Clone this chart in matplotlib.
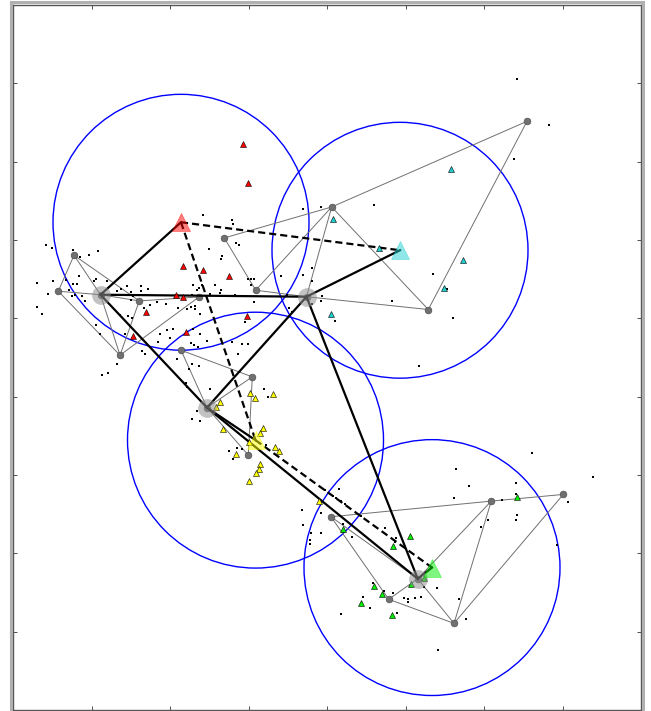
import numpy as np
import matplotlib
matplotlib.use("Agg")
import matplotlib.pyplot as plt
from matplotlib.patches import Circle, Rectangle

# cluster colours and names
names = ["red", "cyan", "yellow", "green"]
colors = ["#ff0000", "#20d0d0", "#ffff00", "#00ee00"]

# cluster centres (big triangles) and circle radius
cent_x = [181.0, 400.0, 255.5, 432.0]
cent_y = [222.0, 250.0, 440.0, 567.5]
radius = 128.0

# hub nodes (big grey discs)
hub_x = [100.5, 306.5, 207.0, 417.7]
hub_y = [294.5, 296.5, 407.5, 578.7]

# hub <-> hub links (thick solid) and centre <-> centre links (thick dashed)
hub_links = [(0, 1), (0, 2), (1, 2), (1, 3), (2, 3)]
cent_links = [(0, 1), (0, 2), (2, 3)]

# grey graph nodes per cluster (index 0 is the hub)
red_nodes = [(100.5, 294.5), (74, 255), (58.3, 291), (139.3, 300.7), (120, 355), (199, 296.7)]
red_edges = [(1, 2), (1, 0), (1, 3), (2, 0), (2, 4), (0, 3), (0, 4), (3, 4), (4, 5), (3, 5)]
cyan_nodes = [(306.5, 296.5), (331.7, 206.7), (527, 121), (428.3, 309.3), (224.3, 237.7), (255.7, 290)]
cyan_edges = [(4, 1), (4, 5), (5, 1), (5, 0), (1, 0), (1, 3), (1, 2), (2, 3), (0, 3)]
yellow_nodes = [(207, 407.5), (181, 350), (252.3, 376.7), (248.3, 455)]
yellow_edges = [(1, 2), (1, 0), (2, 0), (2, 3), (0, 3)]
green_nodes = [(417.7, 578.7), (331, 516.7), (491.3, 501), (563.3, 494.3), (388.7, 599.2), (454, 623.3)]
green_edges = [(1, 2), (1, 0), (1, 4), (4, 0), (4, 5), (0, 5), (0, 2), (2, 5), (2, 3), (3, 5)]

# member triangles
red_tri = [(243, 144), (248.3, 182.7), (182.7, 265.7), (203.3, 270), (229, 276), (175.7, 294.3),
           (182.7, 296.3), (246.7, 315.7), (185.7, 331.7), (146.3, 311.7), (132.7, 335.7)]
cyan_tri = [(450.7, 169), (332.5, 218.5), (379, 248), (463, 260), (444.3, 287.7), (331, 313.3)]
yellow_tri = [(220, 402.3), (215.7, 407.3), (250, 392.7), (254.7, 397.7), (272.5, 394.3), (223.3, 429.3),
              (262.8, 428.3), (260, 432.7), (249.3, 441.7), (275, 446.7), (278.8, 450.7), (236, 454.3),
              (260, 464), (259.3, 469.3), (256, 473), (249.3, 481), (318.7, 500.8)]
green_tri = [(342.8, 529.2), (409.6, 535.7), (392.8, 545.7), (424.3, 577.7), (411.3, 584.2),
             (374.3, 585.5), (382.2, 594.3), (361, 603.3), (392, 615), (517.3, 496.7)]

# unassigned points (black dots)
dots = [
    (45.7, 244.3), (51.7, 247.7), (72.7, 250), (98.3, 250.7), (89.3, 254.3), (80, 256.7),
    (66.3, 280), (72.7, 284), (76.7, 284), (79, 276), (95.7, 278.3), (94, 281), (106.7, 281),
    (37.3, 282.3), (53.3, 281), (69, 289.3), (48.3, 293.3), (75, 294.3), (71.7, 296), (82.3, 296),
    (85, 300.7), (116.7, 290.7), (126.7, 286), (121, 288.3), (141, 285.7), (148.3, 289), (141, 290.7),
    (131, 291.7), (133.3, 296), (131, 300), (156.7, 301.7), (166, 304), (150, 305), (144, 307.3),
    (36.7, 306.7), (41.7, 313.3), (120, 315), (128.3, 315.7), (131.7, 317.7), (95.7, 325), (100, 333.3),
    (125, 334.3), (160, 334.3), (166.7, 330), (172.7, 329), (170, 338.3), (158.3, 342.3), (141.7, 350.7),
    (145, 354), (116.7, 364.3), (101.7, 375), (108.3, 373.3),
    (202.7, 214.3), (231.7, 220), (232.7, 223.3), (235.7, 242.7), (239.3, 244.3), (209.3, 249),
    (222.3, 256), (221, 258.3), (302.7, 208.3), (281, 275.7), (303.3, 275), (311.7, 267.7),
    (248.3, 278.3), (251, 278.3), (253.7, 278.3), (250.7, 285), (192.7, 285), (201.7, 284.3),
    (199.3, 287.7), (197.3, 290), (215, 285), (221, 289.3), (220, 292.7), (210, 293.3), (235, 294.3),
    (191.7, 295), (178.3, 307.7), (186.7, 308.3), (190.7, 306.7), (195, 306), (195, 309), (200, 313.3),
    (254.3, 301.7), (286.7, 294.3), (289.3, 307.7), (291.7, 311.7), (312.3, 303.3), (245, 321.7),
    (192.7, 328.3), (200, 333.3), (206.7, 341), (191, 342.7), (194.3, 345), (231.7, 341.7),
    (241.7, 344.3), (247.7, 344.3), (237.7, 354.3),
    (374, 204.3), (320.7, 206.7), (312.3, 280.7), (322.3, 296), (320.7, 301), (392.3, 300.3),
    (433.3, 274), (453.3, 317.3), (335, 320.7), (446.7, 289),
    (517.3, 79), (549, 124.3), (514.3, 159), (419.3, 366),
    (198.3, 346.7), (177.3, 359.3), (192.3, 364), (199, 366), (189.3, 369.3), (185.7, 382.7),
    (186.7, 386.7), (210, 389.3), (264.3, 389.3), (268.3, 397.3), (197.3, 411), (192.3, 418.7),
    (200, 420.7), (229, 451), (237.3, 447.7), (242, 449), (233.3, 459), (266, 445.3),
    (302.3, 510), (303.3, 524.5), (310.7, 533.3), (320.7, 533.3), (310, 540), (309.5, 544), (321.3, 513.3),
    (325, 490), (338.5, 489.2), (333.3, 495.7), (336, 497.5), (340.5, 501), (344.5, 503.5),
    (342.7, 524.3), (351.7, 537.3), (360.7, 515.7), (385.2, 527.7), (396, 538.3), (394.5, 541.5),
    (424, 587), (437.3, 587.7), (362.7, 597.3), (369.6, 608.2), (341.3, 614.3), (392.5, 592.7),
    (384.3, 591), (403.7, 597.8), (408.3, 598.7), (408, 602.3), (415.3, 598.3), (421, 596.7),
    (397.3, 613.3), (372.7, 582.7), (459, 598.7), (465.7, 619.3), (438, 649.5),
    (455.7, 469), (469.2, 485.7), (454, 498.3), (532.2, 453.3), (515.5, 483.3), (515.5, 493.7),
    (502, 500.2), (517.3, 514.8), (515.5, 519.5), (487.8, 519.5), (480.8, 526.7), (593.3, 476.8),
    (567.7, 501.7), (556.8, 545.3),
]

W, H = 651, 711
fig = plt.figure(figsize=(W / 100, H / 100), dpi=100)
ax = fig.add_axes([13 / W, 1 / H, 628 / W, 705 / H])
ax.set_xlim(13, 641)
ax.set_ylim(710, 5)

# clusters: circle, graph, members
clusters = [(red_nodes, red_edges, red_tri), (cyan_nodes, cyan_edges, cyan_tri),
            (yellow_nodes, yellow_edges, yellow_tri), (green_nodes, green_edges, green_tri)]

for i in range(4):
    ax.add_patch(Circle((cent_x[i], cent_y[i]), radius, fill=False, ec="#0000ff", lw=1.0, zorder=1))

for nodes, edges, tri in clusters:
    for a, b in edges:
        ax.plot([nodes[a][0], nodes[b][0]], [nodes[a][1], nodes[b][1]], color="#707070", lw=0.7, zorder=2)

d = np.array(dots)
ax.plot(d[:, 0], d[:, 1], "s", color="black", ms=1.8, mew=0, zorder=3)

for nodes, edges, tri in clusters:
    n = np.array(nodes)
    ax.plot(n[:, 0], n[:, 1], "o", color="#707070", mec="#505050", mew=0.5, ms=4.8, zorder=4)

for a, b in hub_links:
    ax.plot([hub_x[a], hub_x[b]], [hub_y[a], hub_y[b]], color="black", lw=1.6, zorder=5)
for i in range(4):
    ax.plot([hub_x[i], cent_x[i]], [hub_y[i], cent_y[i]], color="black", lw=1.6, zorder=5)
for a, b in cent_links:
    ax.plot([cent_x[a], cent_x[b]], [cent_y[a], cent_y[b]], color="black", lw=1.6,
            linestyle=(0, (3.2, 1.8)), zorder=5)

for (nodes, edges, tri), c in zip(clusters, colors):
    t = np.array(tri)
    ax.plot(t[:, 0], t[:, 1], "^", color=c, mec="black", mew=0.4, ms=5, zorder=6)

ax.plot(hub_x, hub_y, "o", color="#909090", alpha=0.55, ms=13.5, mew=0, zorder=7)
for i in range(4):
    ax.plot(cent_x[i], cent_y[i], "^", color=colors[i], alpha=0.5, ms=13, mec=colors[i], mew=0.5, zorder=7)

ax.set_xticks(np.arange(13, 642, 78.5))
ax.set_yticks(np.arange(710, 4, -78.375))
ax.tick_params(direction="in", length=3, width=0.6, color="#333333",
               top=True, right=True, labelleft=False, labelbottom=False)
for s in ax.spines.values():
    s.set_color("#555555")
    s.set_linewidth(1.0)

# grey outer frame
fig.add_artist(Rectangle((10.5 / W, -5 / H), 632.5 / W, 714 / H, transform=fig.transFigure,
                         fill=False, ec="#b0b0b0", lw=2.2))

fig.savefig("out.png", dpi=100)
